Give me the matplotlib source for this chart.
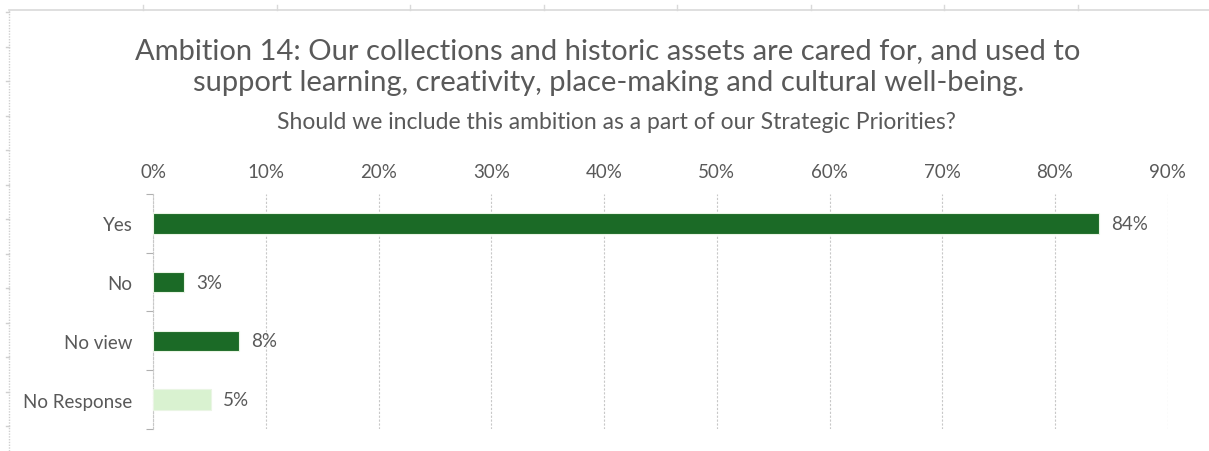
import matplotlib.pyplot as plt
from matplotlib.lines import Line2D
from matplotlib.ticker import PercentFormatter
import numpy as np

# survey answers, share of respondents
answers = ['Yes', 'No', 'No view', 'No Response']
shares = [0.839, 0.027, 0.076, 0.051]
bar_colors = ['#1b6a26', '#1b6a26', '#1b6a26', '#d9f2d0']
xticks = [0.0, 0.1, 0.2, 0.3, 0.4, 0.5, 0.6, 0.7, 0.8, 0.9]

title = ('Ambition 14: Our collections and historic assets are cared for, and used to\n'
         'support learning, creativity, place-making and cultural well-being.')
subtitle = 'Should we include this ambition as a part of our Strategic Priorities?'

grey = '#595959'
plt.rcParams['font.family'] = ['Lato', 'DejaVu Sans']

fig = plt.figure(figsize=(12.09, 4.52), dpi=100)
ax = fig.add_axes([0.1269, 0.0487, 0.8389, 0.5199])

y = np.arange(len(answers))
ax.barh(y, shares, height=0.35, color=bar_colors, edgecolor='#eaf5e4', linewidth=0.8, zorder=3)
for yi, v in zip(y, shares):
    ax.text(v + 0.011, yi, f'{v * 100:.0f}%', va='center', ha='left', fontsize=13.5, color=grey)

ax.set_xlim(0, 0.9)
ax.set_ylim(len(answers) - 0.5, -0.5)
ax.set_xticks(xticks)
ax.xaxis.set_major_formatter(PercentFormatter(1.0, decimals=0))
ax.xaxis.tick_top()
ax.tick_params(axis='x', length=0, pad=10, labelsize=13.5, labelcolor=grey)
ax.grid(axis='x', color='#c8c8c8', linestyle=(0, (2, 1.5)), linewidth=0.8, zorder=0)

ax.set_yticks(y)
ax.set_yticklabels(answers)
ax.set_yticks(np.arange(-0.5, len(answers)), minor=True)
ax.tick_params(axis='y', which='major', length=0, pad=15, labelsize=13.5, labelcolor=grey)
ax.tick_params(axis='y', which='minor', length=5, color='#b0b0b0', width=0.8)

for side in ['top', 'right', 'bottom']:
    ax.spines[side].set_visible(False)
ax.spines['left'].set_color('#c8c8c8')
ax.spines['left'].set_linestyle((0, (2, 1.5)))
ax.spines['left'].set_linewidth(0.8)

fig.text(0.503, 0.851, title, ha='center', va='center', fontsize=21,
         color=grey, linespacing=1.3)
fig.text(0.51, 0.729, subtitle, ha='center', va='center', fontsize=16.5, color=grey)

# sheet frame: rule along the top and dotted rule down the left
fig.add_artist(Line2D([9 / 1209, 1], [1 - 11 / 452] * 2, color='#d9d9d9', lw=1.2))
for px in np.arange(143, 1209, 133.5):
    fig.add_artist(Line2D([px / 1209] * 2, [1 - 11 / 452, 1 - 6 / 452], color='#d9d9d9', lw=1))
fig.add_artist(Line2D([9 / 1209] * 2, [0, 1 - 11 / 452], color='#cfcfcf', lw=1,
                      linestyle=(0, (1, 1))))
for py in np.arange(13, 452, 34.5):
    fig.add_artist(Line2D([6 / 1209, 9 / 1209], [1 - py / 452] * 2, color='#cfcfcf', lw=1))

fig.savefig('out.png', dpi=100, facecolor='white')
